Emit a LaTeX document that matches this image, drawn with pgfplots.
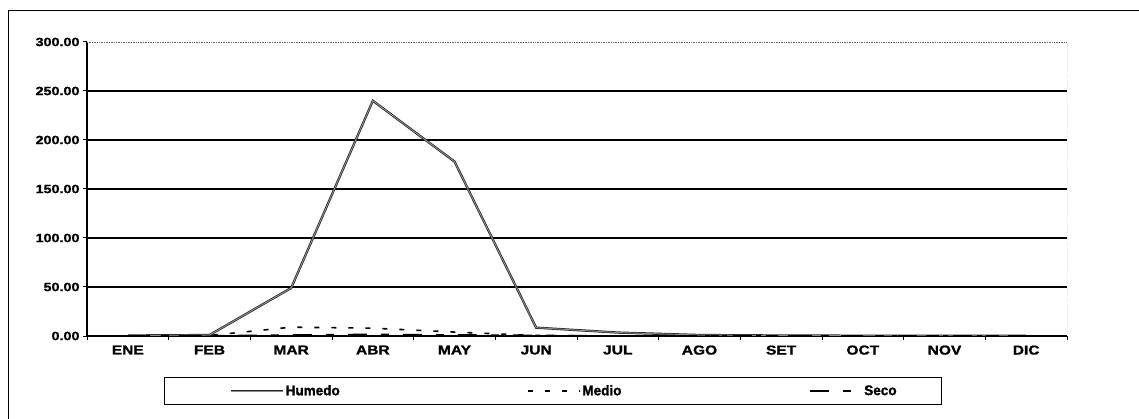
\documentclass[border=0pt]{standalone}
\usepackage{pgfplots}
\pgfplotsset{compat=1.18}
\usepackage{fontspec}
\setmainfont{Liberation Sans}
\newfontfamily\tickfont{Liberation Sans}[FakeStretch=1.2,FakeBold=1.3]
\newfontfamily\legfont{Liberation Sans}[FakeStretch=0.97,FakeBold=1.3]

\pgfplotsset{
  humedoleg/.style={legend image code/.code={\path (0bp,0bp); \draw[##1] (22bp,0bp) -- (74bp,0bp);}},
  stdleg/.style={legend image code/.code={\draw[##1] (0bp,0bp) -- (52bp,0bp);}},
}

\pgfplotstableread{
m Humedo Medio Seco
0 0.5 0 0
1 1 0.5 0
2 49 9 1
3 240 8 1.5
4 178 4 1
5 8.5 0.5 0.5
6 3.5 0 0
7 1 0 0
8 0.5 0 0
9 0.3 0 0
10 0.2 0 0
11 0.2 0 0
}\datatable

\begin{document}
\begin{tikzpicture}
\begin{axis}[
  at={(87bp,83bp)}, anchor=south west,
  scale only axis, width=980bp, height=294bp,
  xmin=-0.5, xmax=11.5, ymin=0, ymax=300,
  axis lines*=left,
  axis line style={black, line width=1.3bp},
  tick style={black, line width=1bp},
  tick align=outside,
  major tick length=4bp,
  xtick={-0.5,0.5,...,11.5},
  xticklabels={},
  extra x ticks={0,1,...,11},
  extra x tick labels={ENE,FEB,MAR,ABR,MAY,JUN,JUL,AGO,SET,OCT,NOV,DIC},
  extra x tick style={major tick length=0bp},
  ytick={0,50,...,300},
  yticklabels={0.00,50.00,100.00,150.00,200.00,250.00,300.00},
  extra y ticks={50,100,150,200,250},
  extra y tick labels={},
  extra y tick style={grid=major, major tick length=0bp},
  major grid style={black, line width=1.3bp},
  yticklabel style={font=\tickfont\bfseries\fontsize{12}{14}\selectfont},
  xticklabel style={font=\tickfont\bfseries\fontsize{13}{15}\selectfont, yshift=-6bp},
  legend columns=3,
  stdleg,
  legend style={at={(0.4755,-0.187)}, anchor=center, draw=black, line width=0.8bp,
    inner xsep=43bp, inner ysep=6bp,
    nodes={inner xsep=1.5bp},
    font=\legfont\bfseries\fontsize{14}{15}\selectfont,
    /tikz/every even column/.append style={column sep=186bp},
    /tikz/column 4/.append style={column sep=196bp}},
]
\addplot[draw=black!85, line width=0.7bp, double=black!45, double distance=0.9bp, humedoleg] table[x=m,y=Humedo]{\datatable};
\addlegendentry{Humedo}
\addplot[black, line width=1.6bp, dash pattern=on 5bp off 12bp] table[x=m,y=Medio]{\datatable};
\addlegendentry{Medio}
\addplot[black, line width=1.8bp, dash pattern=on 19bp off 14bp on 8bp off 14bp] table[x=m,y=Seco]{\datatable};
\addlegendentry{Seco}
\draw[black!60, densely dotted, line width=0.7bp] (rel axis cs:0,1) -- (rel axis cs:1,1) -- (rel axis cs:1,0);
\end{axis}
\draw[line width=0.8bp] (1139bp,409bp) -- (8bp,409bp) -- (8bp,0bp);
\pgfresetboundingbox
\useasboundingbox (0bp,0bp) rectangle (1139bp,419bp);
\end{tikzpicture}
\end{document}
